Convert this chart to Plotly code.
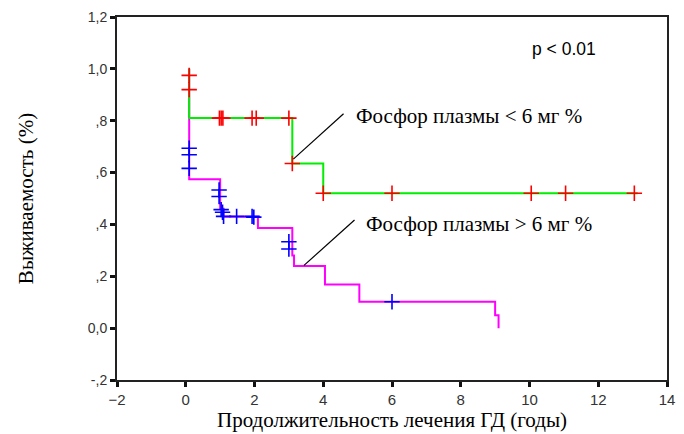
import plotly.graph_objects as go

# Kaplan-Meier step curves (time in years, survival fraction)
low_t = [0.1, 0.1, 3.1, 4.0, 13.15]
low_s = [1.0, 0.81, 0.635, 0.52, 0.52]

high_t = [0.1, 0.1, 1.0, 1.1, 2.1, 3.1, 3.15, 4.05, 5.05, 9.0, 9.1]
high_s = [1.0, 0.574, 0.46, 0.43, 0.386, 0.28, 0.24, 0.168, 0.102, 0.05, 0.0]

# censored observations
low_cens_t = [0.1, 0.1, 0.98, 1.03, 1.08, 1.93, 2.05, 3.0, 3.1, 4.0, 6.0, 10.05, 11.05, 13.05]
low_cens_s = [0.975, 0.92, 0.81, 0.81, 0.81, 0.81, 0.81, 0.81, 0.635, 0.52, 0.52, 0.52, 0.52, 0.52]

high_cens_t = [0.1, 0.1, 0.1, 0.97, 0.97, 1.03, 1.07, 1.1, 1.48, 1.93, 1.98, 3.0, 3.0, 6.0]
high_cens_s = [0.694, 0.669, 0.616, 0.533, 0.508, 0.457, 0.447, 0.431, 0.431, 0.431, 0.428, 0.333, 0.305, 0.102]

y_ticks = [-0.2, 0.0, 0.2, 0.4, 0.6, 0.8, 1.0, 1.2]
y_labels = ["-,2", "0,0", ",2", ",4", ",6", ",8", "1,0", "1,2"]
x_ticks = [-2, 0, 2, 4, 6, 8, 10, 12, 14]

label_low = "Фосфор плазмы < 6 мг %"
label_high = "Фосфор плазмы > 6 мг %"
p_text = "p < 0.01"
x_title = "Продолжительность лечения ГД (годы)"
y_title = "Выживаемость (%)"

fig = go.Figure()
fig.add_trace(go.Scatter(x=high_t, y=high_s, mode="lines", line=dict(color="#ff00ff", width=2, shape="hv"),
                         showlegend=False, hoverinfo="skip"))
fig.add_trace(go.Scatter(x=low_t, y=low_s, mode="lines", line=dict(color="#00ee00", width=2, shape="hv"),
                         showlegend=False, hoverinfo="skip"))
fig.add_trace(go.Scatter(x=low_cens_t, y=low_cens_s, mode="markers",
                         marker=dict(symbol="cross-thin", size=11, line=dict(color="#ff0000", width=1.6)),
                         showlegend=False))
fig.add_trace(go.Scatter(x=high_cens_t, y=high_cens_s, mode="markers",
                         marker=dict(symbol="cross-thin", size=11, line=dict(color="#0000ff", width=1.6)),
                         showlegend=False))

serif = "Liberation Serif"
sans = "Liberation Sans"

fig.add_shape(type="line", x0=3.13, y0=0.652, x1=4.59, y1=0.827, line=dict(color="black", width=1.2))
fig.add_shape(type="line", x0=3.44, y0=0.242, x1=4.91, y1=0.417, line=dict(color="black", width=1.2))

fig.add_annotation(x=4.88, y=0.82, text=label_low, showarrow=False, xanchor="left", yanchor="middle",
                   font=dict(family=serif, size=21, color="black"))
fig.add_annotation(x=5.19, y=0.402, text=label_high, showarrow=False, xanchor="left", yanchor="middle",
                   font=dict(family=serif, size=21, color="black"))
fig.add_annotation(x=10.0, y=1.075, text=p_text, showarrow=False, xanchor="left", yanchor="middle",
                   font=dict(family=sans, size=17.5, color="black"))

fig.update_layout(
    width=684, height=434,
    margin=dict(l=117, r=9, t=17, b=48),
    plot_bgcolor="white", paper_bgcolor="white",
    xaxis=dict(range=[-2, 14], tickvals=x_ticks, showgrid=False, zeroline=False,
               showline=True, linecolor="#222", linewidth=2, mirror=True,
               ticks="outside", ticklen=5, tickwidth=3, tickcolor="#111",
               tickfont=dict(family=sans, size=15, color="#333"),
               title=dict(text=x_title, font=dict(family=serif, size=21, color="black"), standoff=2)),
    yaxis=dict(range=[-0.2, 1.2], tickvals=y_ticks, ticktext=y_labels, showgrid=False, zeroline=False,
               showline=True, linecolor="#222", linewidth=2, mirror=True,
               ticks="outside", ticklen=5, tickwidth=3, tickcolor="#111",
               tickfont=dict(family=sans, size=14, color="#333"),
               title=dict(text=y_title, font=dict(family=serif, size=21, color="black"), standoff=48)),
)

fig.write_html("out.html")
